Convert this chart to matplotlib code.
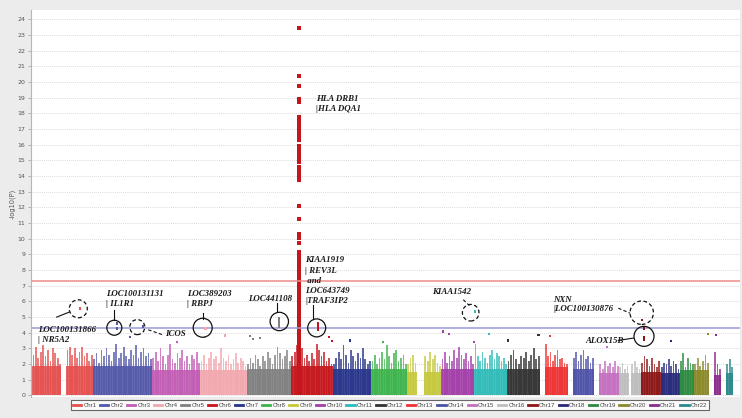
import numpy as np
import matplotlib
matplotlib.use("Agg")
import matplotlib.pyplot as plt
from matplotlib.patches import Ellipse
from matplotlib.lines import Line2D

# ---------------- data ----------------
chrom_names = [f"Chr{i}" for i in range(1, 23)]
chrom_len_mb = [249, 243, 198, 191, 181, 171, 159, 146, 141, 136, 135, 134,
                115, 107, 102, 90, 81, 78, 59, 63, 48, 51]
chrom_colors = ["#e5504f", "#5358a8", "#c25cb5", "#f2a7ae", "#7f7f7f", "#c4161c",
                "#27348b", "#3cb44b", "#c6c83c", "#a33fa8", "#2ebbb8", "#333333",
                "#ee3333", "#4d52a8", "#c46fc0", "#bdbdbd", "#8c1515", "#26297a",
                "#2a8a3e", "#8a8a2a", "#8b2a8b", "#2a8a8a"]

# upper envelope of -log10(P) in ~10 Mb windows
env_chr1 = [2.6, 3.1, 2.4, 2.8, 3.2, 2.5, 2.9, 2.2, 3.0, 2.7, 2.4, 2.0, 0.0, 0.0, 2.9, 3.1, 2.6, 3.0, 2.4, 2.8, 3.1, 2.5, 2.7, 2.2, 2.6]
env_chr2 = [2.3, 2.7, 2.1, 2.9, 2.5, 3.0, 2.6, 2.2, 2.8, 3.3, 2.4, 2.7, 3.1, 2.5, 2.3, 2.9, 2.6, 3.2, 2.4, 2.8, 3.0, 2.5, 2.7, 2.3]
env_chr3 = [2.4, 2.8, 2.2, 3.0, 2.5, 2.0, 2.6, 3.3, 2.3, 2.1, 2.7, 2.4, 2.9, 2.2, 2.5, 2.0, 2.6, 2.3, 2.8, 2.1]
env_chr4 = [2.2, 2.6, 2.0, 2.4, 2.8, 2.3, 2.5, 2.1, 3.0, 2.4, 2.2, 2.6, 2.0, 2.3, 2.7, 2.1, 2.4, 2.2, 1.9]
env_chr5 = [2.0, 2.4, 2.1, 2.6, 2.3, 1.9, 2.5, 2.2, 2.8, 2.4, 2.0, 2.6, 3.1, 2.7, 2.3, 2.5, 2.9, 2.2]
env_chr6 = [2.5, 2.8, 3.2, 3.4, 3.0, 2.4, 2.6, 2.2, 2.7, 2.3, 3.3, 2.9, 2.5, 2.8, 2.2, 2.4, 2.0]
env_chr7 = [2.0, 2.4, 2.8, 2.3, 3.2, 2.6, 2.1, 2.9, 2.5, 2.2, 2.7, 2.4, 3.0, 2.3, 2.0, 2.2]
env_chr8 = [2.2, 2.6, 2.0, 2.4, 2.8, 2.3, 3.2, 2.5, 2.1, 2.7, 2.9, 2.2, 2.4, 2.6, 2.0]
env_chr9 = [2.0, 2.4, 2.6, 2.1, 0.0, 0.0, 0.0, 2.5, 2.2, 2.8, 2.3, 2.6, 2.1, 1.9]
env_chr10 = [2.3, 2.8, 2.1, 2.5, 2.2, 2.9, 2.4, 3.1, 2.6, 2.3, 2.7, 2.2, 2.5, 2.0]
env_chr11 = [3.3, 2.5, 2.2, 2.8, 2.4, 2.1, 2.6, 2.9, 2.3, 2.7, 2.5, 2.2, 2.4, 2.0]
env_chr12 = [2.2, 2.6, 2.9, 2.3, 2.0, 2.5, 2.4, 2.8, 2.2, 2.6, 3.0, 2.3, 2.5]
env_chr13 = [0.0, 0.0, 3.3, 2.5, 2.8, 2.2, 2.6, 2.9, 2.3, 2.4, 2.1, 2.0]
env_chr14 = [0.0, 0.0, 2.4, 2.8, 2.2, 2.6, 2.9, 2.3, 2.5, 2.1, 2.4]
env_chr15 = [0.0, 0.0, 2.0, 1.7, 2.2, 1.9, 2.1, 1.8, 2.2, 1.9]
env_chr16 = [1.8, 2.1, 1.7, 1.9, 0.0, 2.0, 2.2, 1.8, 1.7]
env_chr17 = [2.1, 2.5, 2.3, 1.9, 2.4, 2.0, 1.8, 2.2]
env_chr18 = [1.8, 2.1, 2.0, 2.3, 1.9, 2.2, 2.0, 1.7]
env_chr19 = [2.2, 2.7, 1.8, 2.4, 2.1, 2.0]
env_chr20 = [2.0, 2.4, 1.9, 2.2, 2.6, 2.1]
env_chr21 = [0.0, 0.0, 2.8, 2.0, 1.7]
env_chr22 = [0.0, 0.0, 2.0, 2.3, 1.8]
envelopes = [env_chr1, env_chr2, env_chr3, env_chr4, env_chr5, env_chr6, env_chr7,
             env_chr8, env_chr9, env_chr10, env_chr11, env_chr12, env_chr13, env_chr14,
             env_chr15, env_chr16, env_chr17, env_chr18, env_chr19, env_chr20,
             env_chr21, env_chr22]
# level below which SNPs are densely packed
core_level = [1.9, 1.9, 1.6, 1.6, 1.7, 1.9, 1.7, 1.7, 1.5, 1.7, 1.7, 1.7,
              1.8, 1.7, 1.4, 1.4, 1.5, 1.4, 1.6, 1.6, 1.3, 1.4]

# HLA region (chr6): solid column of SNPs and the top SNPs above it
hla_chrom = 6
hla_pos_mb = 32.5
hla_column_top = 9.3
hla_values = [23.47, 20.41, 19.78, 18.94, 18.75, 17.8, 17.65, 17.5, 17.35, 17.2, 17.05,
              16.9, 16.6, 16.45, 16.28, 15.92, 15.75, 15.6, 15.46, 15.2, 15.05, 14.93,
              14.61, 14.4, 14.19, 14.0, 13.77, 12.1, 11.26, 10.3, 10.05, 9.73]

# suggestive hits shown in circles
sig_chrom = [1, 2, 2, 2, 4, 5, 5, 5, 5, 5, 6, 6, 6, 6, 11, 17, 17, 17, 17]
sig_pos_mb = [196, 98, 98, 204.5, 22, 133, 133, 133, 133, 133, 111, 111, 111, 111,
              2.4, 3.6, 13, 12, 12]
sig_values = [5.56, 4.58, 4.28, 4.39, 4.28, 4.95, 4.8, 4.65, 4.5, 4.38, 4.62, 4.47,
              4.33, 4.18, 5.36, 4.82, 4.28, 3.72, 3.58]

# scattered SNPs above the dense cloud
out_chrom = [2, 3, 4, 4, 5, 5, 5, 6, 6, 7, 8, 10, 10, 10, 11, 12, 12, 13, 15, 18, 20, 21]
out_pos_mb = [152, 101, 19, 101, 13, 26, 54, 157, 167, 71, 49, 7, 33, 134, 59, 3, 128,
              41, 52, 43, 59, 29]
out_values = [3.72, 3.4, 3.72, 3.83, 3.77, 3.62, 3.64, 3.72, 3.47, 3.51, 3.4, 4.08,
              3.94, 3.4, 3.94, 3.51, 3.86, 3.78, 3.08, 3.45, 3.94, 3.87]

genome_wide_line = 7.3
suggestive_line = 4.3

# ---------------- figure ----------------
W, H = 742, 418
fig = plt.figure(figsize=(W / 100, H / 100), dpi=100, facecolor="#ececec")
ax_l, ax_r, ax_t, ax_b = 31, 740, 10, 397
ax = fig.add_axes([ax_l / W, 1 - ax_b / H, (ax_r - ax_l) / W, (ax_b - ax_t) / H])
ax.set_facecolor("white")
XMIN, XMAX = -5, 2905
YMIN, YMAX = -0.1, 24.6
ax.set_xlim(XMIN, XMAX)
ax.set_ylim(YMIN, YMAX)
pxx = (ax_r - ax_l) / (XMAX - XMIN)
pxy = (ax_b - ax_t) / (YMAX - YMIN)

starts = np.concatenate([[0], np.cumsum(chrom_len_mb)[:-1]])

def gpos(ch, mb):
    return starts[np.asarray(ch) - 1] + np.asarray(mb)

for i, (L, env, col) in enumerate(zip(chrom_len_mb, envelopes, chrom_colors)):
    env = np.asarray(env, float)
    n = len(env)
    w = L / n
    centers = starts[i] + (np.arange(n) + 0.5) * w
    ax.bar(centers, env, width=w * 0.7, color=col, alpha=0.75, linewidth=0, zorder=2)
    ax.bar(centers, np.minimum(env, core_level[i]), width=w, color=col, alpha=0.9,
           linewidth=0, zorder=2.1)

# HLA peak
ax.bar(gpos(hla_chrom, hla_pos_mb), hla_column_top, width=14,
       color=chrom_colors[hla_chrom - 1], linewidth=0, zorder=2.2)
ax.scatter(np.full(len(hla_values), gpos(hla_chrom, hla_pos_mb)), hla_values,
           marker="s", s=6, color=chrom_colors[hla_chrom - 1], linewidths=0, zorder=3)
# suggestive hits
ax.scatter(gpos(sig_chrom, sig_pos_mb), sig_values, marker="s", s=3,
           color=[chrom_colors[c - 1] for c in sig_chrom], linewidths=0, zorder=3)
# scattered SNPs
ax.scatter(gpos(out_chrom, out_pos_mb), out_values, marker="s", s=2.5,
           color=[chrom_colors[c - 1] for c in out_chrom], linewidths=0, zorder=3)

ax.axhline(genome_wide_line, color="#f08c8c", lw=1.1, zorder=2.5)
ax.axhline(suggestive_line, color="#9a9ad6", lw=1.1, zorder=2.5)

ax.set_yticks(range(0, 25))
ax.tick_params(axis="y", labelsize=4.5, labelcolor="#555555", length=2, width=0.5,
               color="#999999", pad=2)
ax.set_xticks([])
ax.yaxis.grid(True, linestyle=(0, (1, 1.5)), color="#cccccc", lw=0.6)
ax.set_axisbelow(True)
for s in ["top", "right", "bottom"]:
    ax.spines[s].set_visible(False)
ax.spines["left"].set_color("#b4b4c4")
ax.spines["left"].set_linewidth(0.8)
ax.set_ylabel("-log10(P)", fontsize=4.8, color="#555555", labelpad=1)

# ---------------- annotations ----------------
tfont = dict(family="Liberation Serif", weight="bold", style="italic",
             size=6.4, color="#1a1a1a", va="center", ha="left", zorder=5)

def circ(g, v, r, dashed):
    e = Ellipse((g, v), 2 * r / pxx, 2 * r / pxy, fill=False, ec="#111111",
                lw=0.9, ls=(0, (3, 2)) if dashed else "-", zorder=4)
    ax.add_patch(e)

def seg(g1, v1, g2, v2, dashed=False):
    ax.plot([g1, g2], [v1, v2], color="#111111", lw=0.8,
            ls=(0, (3, 2)) if dashed else "-", zorder=4)

# NR5A2
ax.text(23.7, 4.15, "LOC100131866", **tfont)
ax.text(23.7, 3.51, "| NR5A2", **tfont)
circ(189.1, 5.53, 9, True)
seg(100.5, 5.0, 152.2, 5.32)
# IL1R1
ax.text(302.8, 6.45, "LOC100131131", **tfont)
ax.text(302.8, 5.85, "| IL1R1", **tfont)
circ(336.9, 4.32, 7.5, False)
seg(336.9, 5.47, 336.9, 4.79)
# ICOS
ax.text(545, 3.89, "ICOS", **tfont)
circ(431.3, 4.36, 7.5, True)
seg(476.4, 4.19, 535.5, 3.87, dashed=True)
# RBPJ
ax.text(634, 6.45, "LOC389203", **tfont)
ax.text(634, 5.85, "| RBPJ", **tfont)
circ(699.7, 4.32, 9.5, False)
seg(699.7, 5.25, 699.7, 4.91)
# LOC441108
ax.text(886.9, 6.17, "LOC441108", **tfont)
circ(1014.1, 4.72, 9.2, False)
seg(1003.5, 5.89, 1003.5, 5.3)
# REV3L / TRAF3IP2
for v, s in zip([8.62, 7.93, 7.29, 6.65, 6.02],
                ["KIAA1919", "| REV3L", " and", "LOC643749", "|TRAF3IP2"]):
    ax.text(1119.6, v, s, **tfont)
circ(1167.6, 4.31, 9, False)
seg(1152.5, 5.74, 1152.5, 4.88)
# HLA
ax.text(1164.8, 18.95, "HLA DRB1", **tfont)
ax.text(1164.8, 18.3, "|HLA DQA1", **tfont)
# KIAA1542
ax.text(1639.6, 6.59, "KIAA1542", **tfont)
circ(1799.7, 5.28, 8.3, True)
seg(1769.3, 6.11, 1793.9, 5.74, dashed=True)
# NXN
ax.text(2138.7, 6.06, "NXN", **tfont)
ax.text(2138.7, 5.49, "|LOC100130876", **tfont)
circ(2501.6, 5.28, 11.7, True)
seg(2405.5, 5.57, 2453.5, 5.25, dashed=True)
# ALOX15B
ax.text(2268.8, 3.45, "ALOX15B", **tfont)
circ(2511, 3.77, 10, False)
seg(2405.5, 3.51, 2467, 3.66)

# ---------------- legend ----------------
handles = [Line2D([0], [0], color=c, lw=2) for c in chrom_colors]
leg = fig.legend(handles, chrom_names, ncol=22, loc="center",
                 bbox_to_anchor=(390 / W, 1 - 405 / H),
                 prop=dict(family="Liberation Sans", size=4.3),
                 frameon=True, fancybox=False, edgecolor="#444444",
                 handlelength=1.4, handletextpad=0.35, columnspacing=0.6,
                 borderpad=0.35, labelcolor="#444444")
leg.get_frame().set_linewidth(0.8)
leg.get_frame().set_facecolor("white")

fig.savefig("out.png", dpi=100, facecolor=fig.get_facecolor())
